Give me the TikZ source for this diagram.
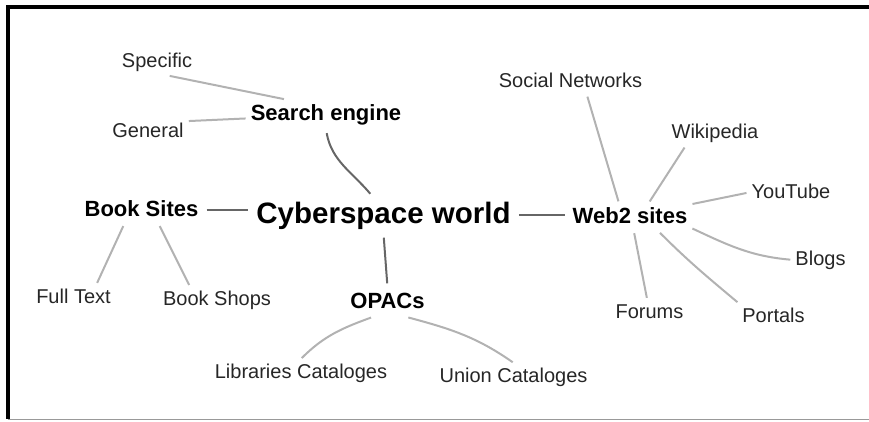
\documentclass[tikz,border=0pt]{standalone}
\usepackage{fontspec}
\setmainfont{Liberation Sans}
\usetikzlibrary{positioning}

\begin{document}
\begin{tikzpicture}[x=1pt, y=1pt,
    leaf/.style={anchor=base, inner sep=4pt, text height=15pt, text depth=4.5pt, text=black!85, font=\fontsize{20}{24}\selectfont},
    hub/.style={anchor=base, inner sep=4pt, text height=16.5pt, text depth=5pt, font=\fontsize{22}{26}\selectfont\bfseries},
    root/.style={anchor=base, inner sep=4pt, text height=22pt, text depth=6.5pt, font=\fontsize{29.5}{34}\selectfont\bfseries},
    stem/.style={draw=black!60, line width=2pt, shorten <=4pt, shorten >=4pt},
    twig/.style={draw=black!30, line width=2pt, shorten <=1pt, shorten >=1pt}]
    \useasboundingbox (0,0) rectangle (869,-421);
    \draw[line width=4pt] (6,-7) -- (869,-7);
    \draw[line width=4pt] (8,-5) -- (8,-419);
    \draw[black!40, line width=1.5pt] (8,-419.5) -- (869,-419.5);

    \node[root] (cyber) at (383.5,-223) {Cyberspace world};
    \node[hub] (srch) at (326,-120) {Search engine};
    \node[hub] (book) at (141.5,-216) {Book Sites};
    \node[hub] (web) at (630,-223) {Web2 sites};
    \node[hub] (opac) at (387.5,-308) {OPACs};

    \node[leaf] (spec) at (157,-67) {Specific};
    \node[leaf] (gen) at (148,-137) {General};
    \node[leaf] (full) at (73.5,-303) {Full Text};
    \node[leaf] (shop) at (217,-305) {Book Shops};
    \node[leaf] (lib) at (301,-378) {Libraries Cataloges};
    \node[leaf] (uni) at (513.5,-382) {Union Cataloges};
    \node[leaf] (soc) at (570.5,-87) {Social Networks};
    \node[leaf] (wiki) at (715,-138) {Wikipedia};
    \node[leaf] (yt) at (791,-198) {YouTube};
    \node[leaf] (blog) at (820.5,-265) {Blogs};
    \node[leaf] (forum) at (649.5,-318) {Forums};
    \node[leaf] (port) at (773.5,-322) {Portals};

    \draw[stem] (srch.south) to[out=-80,in=130] (cyber.120);
    \draw[stem] (book.east) -- (book.east -| cyber.west);
    \draw[stem] (cyber.east) -- (cyber.east -| web.west);
    \draw[stem] (cyber.south) -- (opac.north);

    \draw[twig] (spec.-50) -- (srch.160);
    \draw[twig] (gen.15) -- (srch.183);
    \draw[twig] (book.220) -- (full.31);
    \draw[twig] (book.-40) -- (shop.153);
    \draw[twig] (opac.224) to[out=200,in=45] (lib.north);
    \draw[twig] (opac.-37) to[out=-15,in=145] (uni.north);
    \draw[twig] (web.127) -- (soc.-40);
    \draw[twig] (web.38) -- (wiki.-155);
    \draw[twig] (web.12) -- (yt.west);
    \draw[twig] (web.-10) to[out=-25,in=175] (blog.west);
    \draw[twig] (web.-75) -- (forum.100);
    \draw[twig] (web.-27) to[out=-45,in=140] (port.north west);
\end{tikzpicture}
\end{document}
